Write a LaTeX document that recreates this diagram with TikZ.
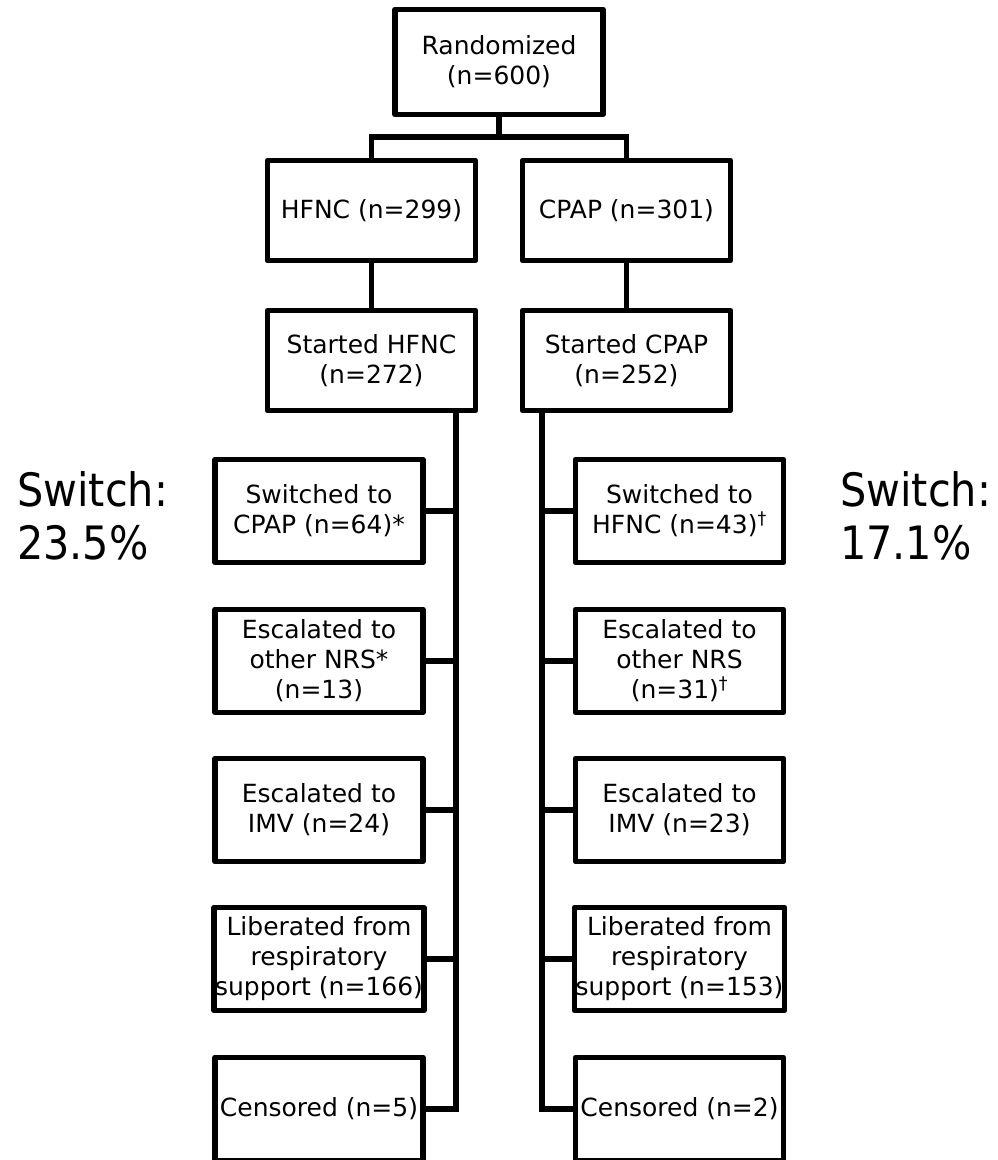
\documentclass[tikz,border=0pt]{standalone}
\usepackage{fontspec}
\setmainfont{DejaVu Sans}
\newfontfamily\ratefont{DejaVu Sans Condensed}
\usepackage{tikz}
\usetikzlibrary{positioning, calc}

\begin{document}
\begin{tikzpicture}[
    x=1pt, y=-1pt,
    box/.style={draw, line width=5.5pt, line join=round, fill=white, align=center,
                inner sep=1pt, minimum width=208pt, minimum height=103pt,
                font=\fontsize{25}{30}\selectfont},
    topbox/.style={box, minimum height=105pt},
    armbox/.style={box, minimum height=100pt},
    link/.style={line width=5.5pt},
    switchlbl/.style={align=left, inner sep=0pt, font=\ratefont\fontsize{46}{53}\selectfont},
]
\useasboundingbox (0,0) rectangle (998,1160);

% ---- Randomisation ----
\node[topbox] (rand) at (499, 62) {Randomized\\(n=600)};
\coordinate (split) at (499, 137);

\node[armbox] (hfnc)  at (371.5, 210.5) {HFNC (n=299)};
\node[armbox] (cpap)  at (626.5, 210.5) {CPAP (n=301)};
\node[armbox] (shfnc) at (371.5, 360.5) {Started HFNC\\(n=272)};
\node[armbox] (scpap) at (626.5, 360.5) {Started CPAP\\(n=252)};

\draw[link] (rand) -- (split);
\draw[link] (hfnc.north) |- (split) -| (cpap.north);
\draw[link] (hfnc) -- (shfnc);
\draw[link] (cpap) -- (scpap);

% ---- Left: HFNC outcomes ----
\coordinate (ltrunk) at (456, 0);
\node[box] (lsw)   at (319, 511)  {Switched to\\CPAP (n=64)*};
\node[box] (lnrs)  at (319, 661)  {Escalated to\\other NRS*\\(n=13)};
\node[box] (limv)  at (319, 810)  {Escalated to\\IMV (n=24)};
\node[box] (llib)  at (319, 959)  {Liberated from\\respiratory\\support (n=166)};
\node[box] (lcens) at (319, 1109) {Censored (n=5)};

\draw[link] (shfnc.south -| ltrunk) |- (lcens.east);
\foreach \b in {lsw, lnrs, limv, llib}
  \draw[link] (\b.east) -- (\b.east -| ltrunk);

% ---- Right: CPAP outcomes ----
\coordinate (rtrunk) at (542, 0);
\node[box] (rsw)   at (679.5, 511)  {Switched to\\HFNC (n=43)\textsuperscript{\textdagger}};
\node[box] (rnrs)  at (679.5, 661)  {Escalated to\\other NRS\\(n=31)\textsuperscript{\textdagger}};
\node[box] (rimv)  at (679.5, 810)  {Escalated to\\IMV (n=23)};
\node[box] (rlib)  at (679.5, 959)  {Liberated from\\respiratory\\support (n=153)};
\node[box] (rcens) at (679.5, 1109) {Censored (n=2)};

\draw[link] (scpap.south -| rtrunk) |- (rcens.west);
\foreach \b in {rsw, rnrs, rimv, rlib}
  \draw[link] (\b.west) -- (\b.west -| rtrunk);

% ---- Switch rates ----
\node[switchlbl, anchor=west] (lrate) at (17, 516) {Switch:\\23.5\%};
\node[switchlbl, anchor=west] (rrate) at (840, 516) {Switch:\\17.1\%};

\end{tikzpicture}
\end{document}
